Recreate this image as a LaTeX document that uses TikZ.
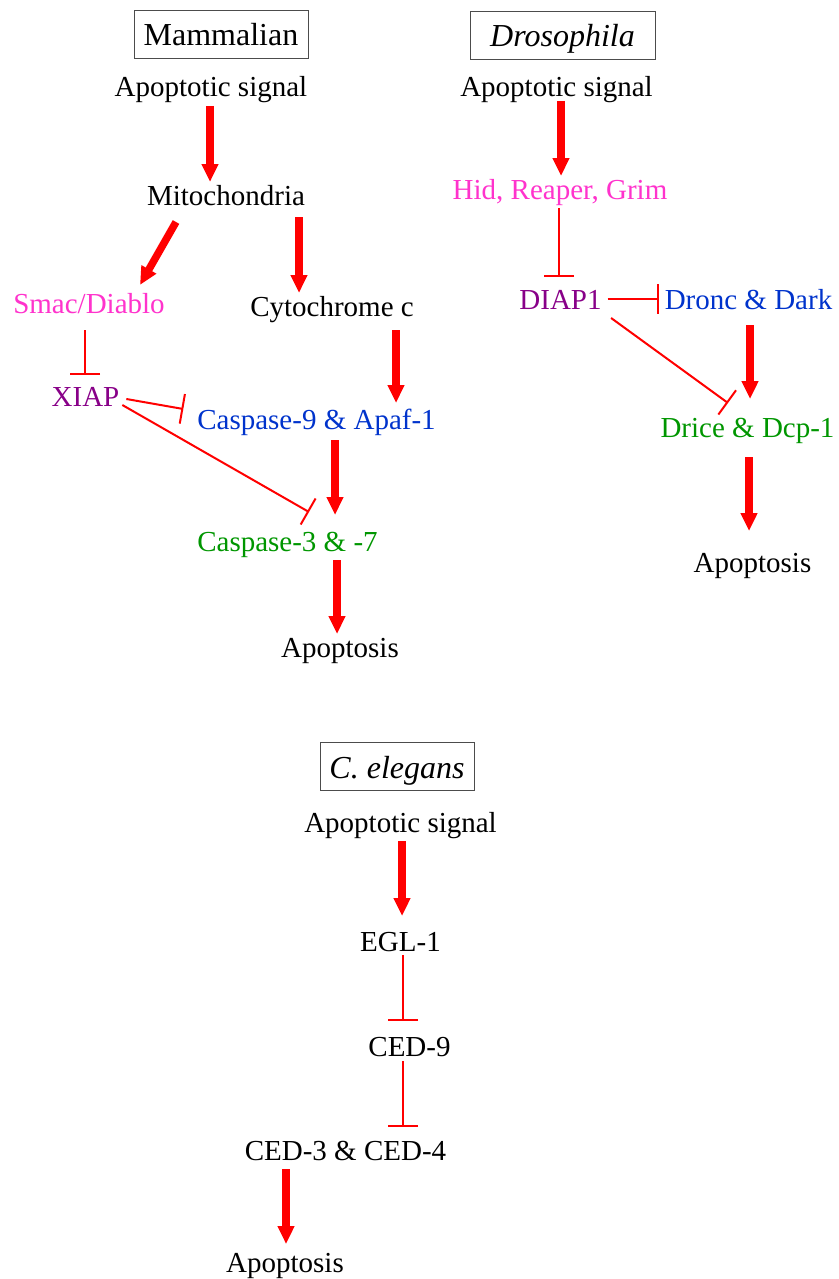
\documentclass[tikz,border=0pt]{standalone}
\usepackage{fontspec}
\setmainfont{Liberation Serif}
\usetikzlibrary{arrows.meta}
\definecolor{sigpink}{RGB}{255,51,204}
\definecolor{iappurple}{RGB}{136,0,136}
\definecolor{casblue}{RGB}{0,51,204}
\definecolor{casgreen}{RGB}{0,150,0}

\begin{document}
\begin{tikzpicture}[x=1pt,y=-1pt]
\tikzstyle{txt}=[font=\fontsize{29}{34}\selectfont,inner sep=0,outer sep=2pt,text height=21pt,text depth=7pt,anchor=base]
\tikzstyle{ttlbox}=[draw=black!70,line width=.8pt,font=\fontsize{32}{38}\selectfont,inner sep=0,text height=36pt,text depth=12.5pt,anchor=base]
\tikzstyle{act}=[red,line width=7.5pt,-{Triangle[length=18pt,width=16pt]}]
\tikzstyle{inh}=[red,line width=2pt,-{Bar[width=30pt]}]
\useasboundingbox (0,0) rectangle (838,1279);
% ========= mammalian
\node (titM) at (221,46) [ttlbox, minimum width=174pt] {Mammalian};
\node (apsM) at (211,97) [txt] {Apoptotic signal};
\node (mito) at (226,205) [txt] {Mitochondria};
\node (smac) at (89,313) [txt, sigpink] {Smac/Diablo};
\node (cyto) at (332,316) [txt] {Cytochrome c};
\node (xiap) at (85.5,406) [txt, iappurple] {XIAP};
\node (casp9) at (316.5,429) [txt, casblue] {Caspase-9 \& Apaf-1};
\node (casp3) at (287.5,551) [txt, casgreen] {Caspase-3 \& -7};
\node (apoM) at (340,657) [txt] {Apoptosis};
% ========= drosophila
\node (titD) at (562.5,47) [ttlbox, minimum width=185pt] {\textit{Drosophila}};
\node (apsD) at (556.5,97) [txt] {Apoptotic signal};
\node (hid) at (560,199) [txt, sigpink] {Hid, Reaper, Grim};
\node (diap) at (560.5,309) [txt, iappurple] {DIAP1};
\node (dronc) at (748.5,309) [txt, casblue] {Dronc \& Dark};
\node (drice) at (747.5,437) [txt, casgreen] {Drice \& Dcp-1};
\node (apoD) at (752.5,572) [txt] {Apoptosis};
% ========= c. elegans
\node (titC) at (397,778) [ttlbox, minimum width=154pt] {\textit{C. elegans}};
\node (apsC) at (400.5,832) [txt] {Apoptotic signal};
\node (egl) at (400.5,951) [txt] {EGL-1};
\node (ced9) at (409.5,1056) [txt] {CED-9};
\node (ced34) at (345.5,1160) [txt] {CED-3 \& CED-4};
\node (apoC) at (285,1272) [txt] {Apoptosis};
% ====== activation
\draw [act] ([xshift=-1pt]apsM.south) -- ([xshift=-1pt]apsM.south |- mito.north);
\draw [act] ([xshift=-50pt,yshift=-8pt]mito.south) -- ([xshift=51pt,yshift=5pt]smac.north);
\draw [act] ([xshift=73pt,yshift=-3pt]mito.south) -- ([xshift=73pt]mito.south |- cyto.north);
\draw [act] ([xshift=64pt,yshift=-5pt]cyto.south) -- ([xshift=64pt,yshift=3pt]cyto.south |- casp9.north);
\draw [act] ([xshift=18.5pt,yshift=-2pt]casp9.south) -- ([xshift=18.5pt,yshift=13pt]casp9.south |- casp3.north);
\draw [act] ([xshift=49.5pt]casp3.south) -- ([xshift=49.5pt]casp3.south |- apoM.north);
\draw [act] ([xshift=4.5pt,yshift=5pt]apsD.south) -- ([xshift=4.5pt]apsD.south |- hid.north);
\draw [act] ([xshift=1.5pt,yshift=-7pt]dronc.south) -- ([xshift=1.5pt,yshift=15pt]dronc.south |- drice.north);
\draw [act] ([xshift=1.5pt,yshift=-11pt]drice.south) -- ([xshift=1.5pt,yshift=18pt]drice.south |- apoD.north);
\draw [act] ([xshift=1.5pt]apsC.south) -- ([xshift=1.5pt,yshift=12pt]apsC.south |- egl.north);
\draw [act] ([xshift=-59.5pt]ced34.south) -- ([xshift=-59.5pt,yshift=5pt]ced34.south |- apoC.north);
%% ===== inhibition
\draw [inh] ([xshift=-4pt,yshift=-8pt]smac.south) -- ([xshift=-4pt,yshift=8pt]smac.south |- xiap.north);
\draw [inh] ([xshift=5pt]xiap.east) -- ([xshift=-12pt,yshift=13pt]casp9.west);
\draw [inh] ([xshift=1pt,yshift=-6pt]xiap.east) -- ([xshift=21.5pt,yshift=16pt]casp3.north);
\draw [inh] ([xshift=-1pt]hid.south) -- ([xshift=-1pt,yshift=9pt]hid.south |- diap.north);
\draw [inh] ([xshift=4pt,yshift=3pt]diap.east) -- ([xshift=-3.5pt,yshift=3pt]dronc.west);
\draw [inh] ([xshift=7.5pt]diap.south east) -- ([xshift=-19.5pt,yshift=11pt]drice.north);
\draw [inh] ([xshift=2.5pt,yshift=5pt]egl.south) -- ([xshift=2.5pt,yshift=12pt]egl.south |- ced9.north);
\draw [inh] ([xshift=-6.5pt,yshift=4pt]ced9.south) -- ([xshift=-6.5pt,yshift=10pt]ced9.south |- ced34.north);
\end{tikzpicture}
\end{document}
